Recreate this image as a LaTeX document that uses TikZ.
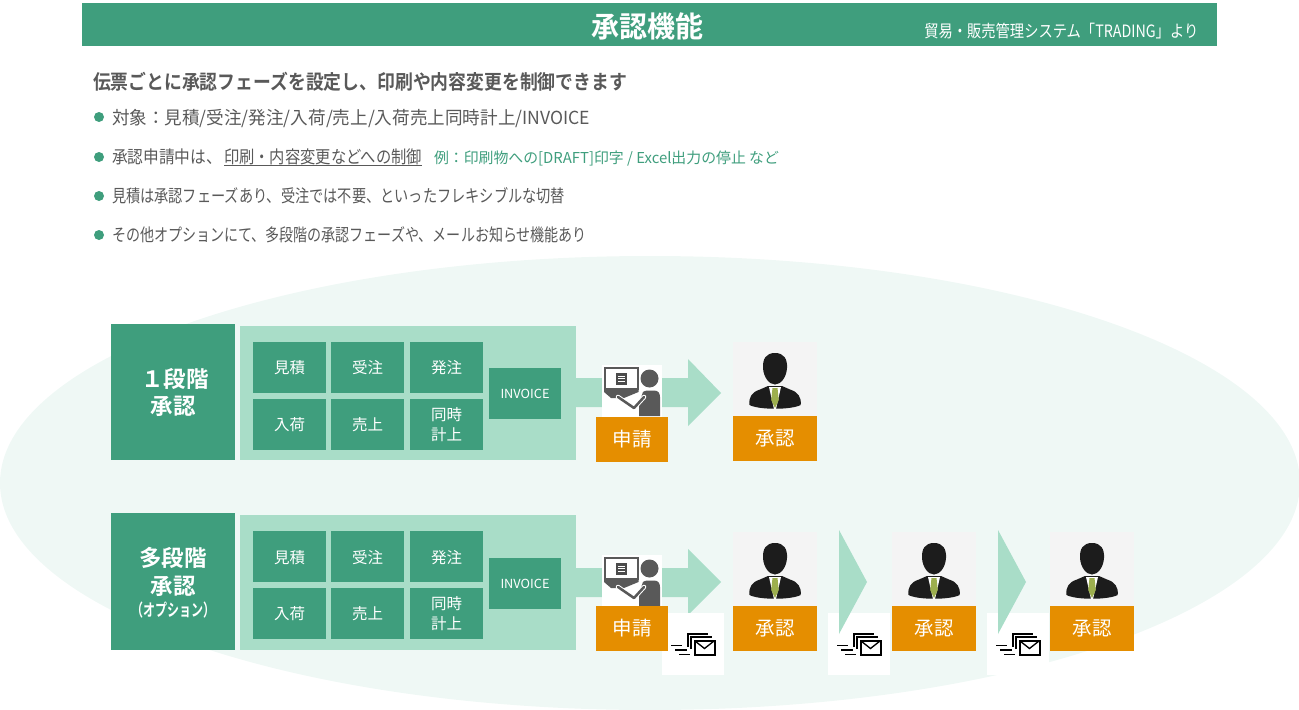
\documentclass[tikz,border=0pt]{standalone}
\usepackage{fontspec}
\usepackage{graphicx}
\setmainfont{Noto Sans CJK JP}[BoldFont={Noto Sans CJK JP Bold}]
\newlength{\pxu}\setlength{\pxu}{0.75pt}
\newcommand{\fw}[2]{\resizebox{#1\pxu}{\height}{#2}}
\newcommand{\fsz}[1]{\fontsize{#1\pxu}{#1\pxu}\selectfont}
\definecolor{maingreen}{HTML}{3F9E7D}
\definecolor{lightgreen}{HTML}{A9DDC8}
\definecolor{palegreen}{HTML}{EFF8F5}
\definecolor{bandorange}{HTML}{E58E00}
\definecolor{txtgray}{HTML}{595959}
\definecolor{portrait}{HTML}{F4F4F4}
\definecolor{silhouette}{HTML}{1C1C1C}
\definecolor{tieolive}{HTML}{9DAF4E}
\tikzset{
  x=0.75pt,y=-0.75pt,
  box/.style={fill=#1,draw=none},
  txt/.style={inner sep=0pt,outer sep=0pt,anchor=west,text=txtgray},
  celltxt/.style={inner sep=0pt,text=white,align=center,font=\fsz{15.5}},
  headtxt/.style={inner sep=0pt,text=white,align=center,font=\fsz{22.5}\bfseries},
  bandtxt/.style={inner sep=0pt,text=white,font=\fsz{19.5}},
  bulletdot/.style={fill=maingreen,draw=none},
  manicon/.pic={
    \fill[portrait] (0,0) rectangle (84,74);
    \fill[silhouette] (16.5,63) .. controls (15.5,55) and (19,50) .. (27,47.5)
      -- (35,44) -- (49,44) -- (57,47.5) .. controls (65,50) and (68.5,55) .. (67.7,63)
      .. controls (58,68) and (26,68) .. (16.5,63) -- cycle;
    \fill[silhouette] (42,11) .. controls (51,11) and (54.5,17) .. (54,26)
      .. controls (53.5,35) and (48,42.5) .. (42,42.5) .. controls (36,42.5) and (30.5,35) .. (30,26)
      .. controls (29.5,17) and (33,11) .. (42,11) -- cycle;
    \fill[white] (36,45) -- (48,45) -- (43,67) -- (41,67) -- cycle;
    \fill[tieolive] (39.5,46) -- (44.5,46) -- (45.8,58) -- (42,66) -- (38.2,58) -- cycle;
  },
  deskicon/.pic={
    \fill[white] (0,0) rectangle (60,52);
    \draw[txtgray,line width=1.7pt,fill=white] (3,3.2) rectangle (35.8,24);
    \fill[txtgray] (2,24.5) -- (36.5,24.5) -- (36.5,27) -- (22,33) -- (9,33) -- (2,27) -- cycle;
    \fill[txtgray!85!black] (14,8) rectangle (24.5,20);
    \draw[white,line width=0.5pt] (16,11) -- (22.5,11) (16,13.5) -- (22.5,13.5) (16,16) -- (22.5,16);
    \fill[txtgray] (47.5,13.5) circle (9);
    \fill[txtgray] (37,51) -- (37,38) -- (41,27) .. controls (42,26) and (44,25.5) .. (46,25.5)
      -- (52,25.5) .. controls (56,25.5) and (58,28) .. (58,32) -- (58,51) -- cycle;
    \draw[white,line width=3.4pt,line cap=round,line join=round] (16,32) -- (32,43) -- (42,32);
    \draw[txtgray,line width=1.9pt,line cap=round,line join=round] (16,32) -- (32,43) -- (42,32);
  },
  mailicon/.pic={
    \fill[white] (0,0) rectangle (62,62);
    \draw[black,line width=0.9pt] (26,34) -- (26,21) -- (46,21);
    \draw[black,line width=0.9pt] (29,36) -- (29,24) -- (50,24);
    \draw[black,line width=1.5pt,fill=white] (32.5,27.5) rectangle (52.5,41.5);
    \draw[black,line width=1pt] (33,28) -- (42.5,35.5) -- (52,28);
    \draw[black,line width=1pt] (9,32.7) -- (20,32.7) (13,37) -- (25,37) (17,41.3) -- (28,41.3);
  },
}
\begin{document}
\begin{tikzpicture}
\useasboundingbox (0,0) rectangle (1299,710);
\begin{scope}
\clip (0,0) rectangle (1299,710);
\fill[palegreen] (650,483) ellipse [x radius=650,y radius=227];
\end{scope}

% title bar
\fill[box=maingreen] (82,3) rectangle (1217,46);
\node[inner sep=0pt,text=white,font=\fsz{29}\bfseries] (title) at (647.5,26.5) {\fw{112}{承認機能}};
\node[inner sep=0pt,text=white,font=\fsz{17},anchor=west] (source) at (924,31) {\fw{274}{貿易・販売管理システム「TRADING」より}};

% text block
\node[txt,font=\fsz{20}\bfseries] (lead) at (93,81.5) {\fw{534}{伝票ごとに承認フェーズを設定し、印刷や内容変更を制御できます}};
\fill[bulletdot] (99,117) circle (5);
\fill[bulletdot] (99,157) circle (5);
\fill[bulletdot] (99,196) circle (5);
\fill[bulletdot] (99,235) circle (5);
\node[txt,font=\fsz{18}] (b1) at (112,118.5) {\fw{478}{対象：見積/受注/発注/入荷/売上/入荷売上同時計上/INVOICE}};
\node[txt,font=\fsz{17.5}] (b2a) at (112,157) {\fw{110}{承認申請中は、}};
\node[txt,font=\fsz{17.5}] (b2b) at (224,157) {\fw{198}{印刷・内容変更などへの制御}};
\draw[txtgray,line width=0.8pt] (224,165.5) -- (422,165.5);
\node[txt,font=\fsz{15},text=maingreen] (b2c) at (434,158.5) {\fw{345}{例：印刷物への[DRAFT]印字 / Excel出力の停止 など}};
\node[txt,font=\fsz{17.5}] (b3) at (112,196) {\fw{453}{見積は承認フェーズあり、受注では不要、といったフレキシブルな切替}};
\node[txt,font=\fsz{17.5}] (b4) at (112,235) {\fw{475}{その他オプションにて、多段階の承認フェーズや、メールお知らせ機能あり}};

% row 1
\fill[box=maingreen] (111,324) rectangle (235,460);
\fill[box=lightgreen] (240,326) rectangle (576,460);
\node[headtxt] (h1a) at (175,379) {１段階};
\node[headtxt] (h1b) at (173,406) {承認};
\fill[box=maingreen] (253,342) rectangle (326,393);
\fill[box=maingreen] (331,342) rectangle (404,393);
\fill[box=maingreen] (410,342) rectangle (483,393);
\fill[box=maingreen] (253,399) rectangle (326,450);
\fill[box=maingreen] (331,399) rectangle (404,450);
\fill[box=maingreen] (410,399) rectangle (483,450);
\fill[box=maingreen] (489,368) rectangle (561,419);
\node[celltxt] (c11) at (289.5,367.5) {見積};
\node[celltxt] (c12) at (367.5,367.5) {受注};
\node[celltxt] (c13) at (446.5,367.5) {発注};
\node[celltxt] (c14) at (289.5,424.5) {入荷};
\node[celltxt] (c15) at (367.5,424.5) {売上};
\node[celltxt] (c16) at (446.5,424.5) {同時\\[3pt]計上};
\node[celltxt,font=\fsz{12.5}] (c17) at (525,394) {\fw{49}{INVOICE}};
\fill[box=lightgreen] (561,378) -- (688,378) -- (688,359) -- (721,393) -- (688,426) -- (688,407) -- (561,407) -- cycle;
\pic at (602,365) {deskicon};
\fill[box=bandorange] (596,417) rectangle (668,462);
\node[bandtxt] (a1) at (632,439.5) {申請};
\pic at (733,342) {manicon};
\fill[box=bandorange] (733,416) rectangle (817,461);
\node[bandtxt] (a2) at (775,438.5) {承認};

% row 2
\fill[box=maingreen] (111,513) rectangle (235,650);
\fill[box=lightgreen] (240,515) rectangle (576,650);
\node[headtxt] (h2a) at (173,558) {多段階};
\node[headtxt] (h2b) at (173,586) {承認};
\node[headtxt,font=\fsz{17}\bfseries] (h2c) at (173,610) {\fw{84}{（オプション）}};
\fill[box=maingreen] (253,531) rectangle (326,582);
\fill[box=maingreen] (331,531) rectangle (404,582);
\fill[box=maingreen] (410,531) rectangle (483,582);
\fill[box=maingreen] (253,588) rectangle (326,639);
\fill[box=maingreen] (331,588) rectangle (404,639);
\fill[box=maingreen] (410,588) rectangle (483,639);
\fill[box=maingreen] (489,558) rectangle (561,609);
\node[celltxt] (c21) at (289.5,557.5) {見積};
\node[celltxt] (c22) at (367.5,557.5) {受注};
\node[celltxt] (c23) at (446.5,557.5) {発注};
\node[celltxt] (c24) at (289.5,613.5) {入荷};
\node[celltxt] (c25) at (367.5,613.5) {売上};
\node[celltxt] (c26) at (446.5,613.5) {同時\\[3pt]計上};
\node[celltxt,font=\fsz{12.5}] (c27) at (525,584) {\fw{49}{INVOICE}};
\fill[box=lightgreen] (561,568) -- (688,568) -- (688,549) -- (721,582) -- (688,615) -- (688,597) -- (561,597) -- cycle;
\pic at (602,555) {deskicon};
\pic at (662,613) {mailicon};
\fill[box=bandorange] (596,606) rectangle (668,651);
\node[bandtxt] (a3) at (632,628.5) {申請};
\pic at (733,532) {manicon};
\fill[box=bandorange] (733,606) rectangle (817,651);
\node[bandtxt] (a4) at (775,628.5) {承認};
\pic at (828,613) {mailicon};
\fill[box=lightgreen] (839,530) -- (867,582) -- (839,634) -- cycle;
\pic at (892,532) {manicon};
\fill[box=bandorange] (892,606) rectangle (976,651);
\node[bandtxt] (a5) at (934,628.5) {承認};
\pic at (987,613) {mailicon};
\fill[box=lightgreen] (998,530) -- (1026,582) -- (998,634) -- cycle;
\pic at (1050,532) {manicon};
\fill[box=bandorange] (1050,606) rectangle (1134,651);
\node[bandtxt] (a6) at (1092,628.5) {承認};
\end{tikzpicture}
\end{document}
